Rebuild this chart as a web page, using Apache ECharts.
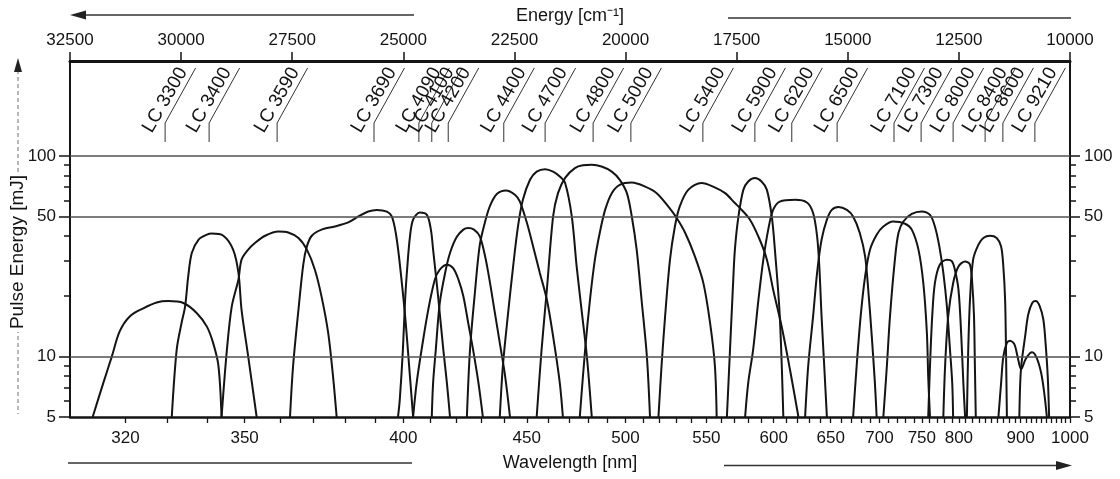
<!DOCTYPE html>
<html>
<head>
<meta charset="utf-8">
<script src="https://cdn.jsdelivr.net/npm/echarts@6.0.0/dist/echarts.min.js"></script>
<style>
html,body{margin:0;padding:0;background:#ffffff;}
#chart{width:1120px;height:479px;}
</style>
</head>
<body>
<div id="chart"></div>
<script>
// ---------------- DATA ----------------
// x: photon energy [cm^-1] (top axis), y: pulse energy [mJ]
const lc3300Energy = [31990,31750,31560,31380,31150,30850,30550,30290,29950,29650,29420,29280,29160,29090];
const lc3300Pulse  = [5,7.4,10.0,13.4,15.9,17.4,18.6,18.9,18.5,16.5,14.1,11.7,9.0,5];

const lc3400Energy = [30210,30100,29990,29910,29840,29760,29610,29420,29310,29050,28830,28710,28640,28490,28300];
const lc3400Pulse  = [5,10.8,14.7,17.8,25.1,32.8,38.2,40.5,41.0,40.0,34.1,26.1,17.1,10.0,5];

const lc3590Energy = [29090,28970,28860,28710,28640,28490,28340,28110,27810,27590,27360,27170,26990,26840,26690,26580,26500];
const lc3590Pulse  = [5,10.8,17.8,24.2,30.4,34.1,36.8,40.0,42.0,41.5,39.0,34.1,27.1,19.9,13.1,7.9,5];

const lc3690Energy = [27550,27480,27360,27250,27170,27060,26840,26540,26240,26010,25790,25600,25370,25260,25170,25090,24960,24850,24780];
const lc3690Pulse  = [5,9.0,17.1,28.9,35.4,40.0,42.9,44.5,46.6,49.9,52.8,53.8,52.8,49.9,41.3,30.4,15.9,7.9,5];

const lc4090Energy = [25120,25080,25010,24960,24910,24850,24780,24630,24470,24380,24330,24210,24100,24020,23950];
const lc4090Pulse  = [5,6.1,10.8,19.2,28.1,39.7,48.1,52.2,50.8,42.9,34.1,19.2,10.8,7.4,5];

const lc4100Energy = [24780,24700,24590,24440,24290,24180,24020,23880,23760,23650,23540,23430,23310,23210];
const lc4100Pulse  = [5,7.4,10.8,17.1,24.2,27.1,28.7,27.6,24.2,20.0,14.7,10.8,7.4,5];

const lc4200Energy = [24360,24330,24270,24180,24060,23950,23800,23650,23540,23410,23280,23160,23050,22940,22830,22710,22600];
const lc4200Pulse  = [5,7.4,10.8,18.5,26.1,32.8,39.4,42.9,43.7,42.9,39.7,31.6,23.3,16.5,11.7,8.0,5];

const lc4400Energy = [23570,23500,23390,23280,23160,23050,22890,22690,22490,22380,22220,22080,21930,21770,21630,21480,21410];
const lc4400Pulse  = [5,10.8,20.8,36.0,47.0,56.4,64.7,67.2,64.0,59.3,46.4,35.4,26.2,19.2,12.6,7.4,5];

const lc4700Energy = [22830,22760,22650,22530,22420,22310,22150,22000,21810,21630,21480,21360,21210,21100,20990,20870,20760];
const lc4700Pulse  = [5,9.0,15.9,28.1,44.5,60.4,76.0,83.5,85.9,83.5,78.9,73.2,49.9,28.1,17.1,10.0,5];

const lc4800Energy = [22000,21890,21770,21630,21520,21360,21140,20960,20760,20540,20310,20130,19970,19860,19750,19640,19520,19450];
const lc4800Pulse  = [5,10.8,21.6,49.9,65.2,77.7,86.9,89.7,90.2,88.5,83.5,76.0,65.2,49.9,34.1,19.2,10.0,5];

const lc5000Energy = [21030,20910,20800,20690,20580,20460,20310,20130,19860,19560,19300,19040,18850,18660,18440,18250,18100,17990,17950];
const lc5000Pulse  = [5,10.8,19.2,30.4,41.4,53.8,65.2,71.7,73.6,70.3,65.2,56.0,49.0,41.4,31.6,23.3,14.8,9.0,5];

const lc5400Energy = [19260,19190,19110,19000,18890,18780,18590,18290,18030,17760,17540,17430,17200,16980,16820,16680,16490,16300,16110];
const lc5400Pulse  = [5,9.0,15.9,30.4,44.5,56.0,67.7,73.2,70.3,65.2,58.2,55.1,48.1,38.2,30.4,21.6,14.2,8.6,5];

const lc5900Energy = [17720,17650,17580,17540,17460,17350,17240,17090,16940,16820,16710,16640,16530,16450];
const lc5900Pulse  = [5,10.8,23.3,34.1,49.9,67.7,74.5,77.5,74.5,67.7,49.9,34.1,15.9,5];

const lc6200Energy = [17310,17240,17130,17010,16900,16790,16680,16530,16190,15920,15780,15690,15640,15590,15530,15470];
const lc6200Pulse  = [5,7.4,10.8,19.2,30.4,42.9,53.8,59.2,60.4,58.6,51.9,39.7,28.1,15.9,9.0,5];

const lc6500Energy = [15960,15890,15780,15690,15590,15470,15360,15210,15020,14880,14730,14610,14540,14460,14390,14350];
const lc6500Pulse  = [5,9.0,15.9,26.2,38.2,48.1,53.8,55.6,53.8,49.9,41.3,31.6,21.6,12.6,7.4,5];

const lc7100Energy = [14880,14800,14710,14610,14500,14350,14200,13980,13710,13560,13410,13300,13220,13190,13150];
const lc7100Pulse  = [5,9.0,15.9,25.1,34.1,40.5,44.5,47.1,45.9,42.9,34.1,23.2,13.1,7.9,5];

const lc7300Energy = [14200,14120,14050,13940,13860,13750,13560,13340,13150,13040,12940,12850,12770,12700,12650,12630];
const lc7300Pulse  = [5,9.0,15.9,30.4,41.3,47.1,51.4,52.9,50.8,44.5,35.4,26.1,17.8,10.8,7.4,5];

const lc8000aEnergy = [13190,13150,13100,13040,12930,12770,12660,12590,12510,12450,12400,12360];
const lc8000aPulse  = [5,9.0,15.9,23.2,28.7,30.4,29.9,27.1,21.6,13.2,7.4,5];

const lc8000bEnergy = [12850,12810,12740,12630,12510,12360,12250,12200,12160,12140,12120];
const lc8000bPulse  = [5,9.0,15.9,23.2,28.1,29.8,28.7,23.2,15.9,9.0,5];

const lc8400Energy = [12320,12290,12250,12180,12060,11950,11800,11650,11550,11500,11460,11440,11420];
const lc8400Pulse  = [5,10.8,19.2,30.4,36.1,39.0,40.0,39.0,35.4,28.1,19.2,10.8,5];

const lc8600Energy = [11610,11550,11500,11420,11350,11250,11180,11100,11000,10900,10850,10750,10650,10580,10520];
const lc8600Pulse  = [5,7.4,10.0,11.7,12.0,11.5,10.0,8.65,9.7,10.4,10.5,9.85,8.3,6.6,5];

const lc9210Energy = [11140,11120,11090,11010,10940,10850,10770,10680,10600,10550,10500,10470];
const lc9210Pulse  = [5,7.4,9.3,12.6,16.2,18.5,18.9,17.8,15.3,11.7,7.9,5];

// dye labels and their positions [cm^-1]
const dyeNames = ['LC 3300','LC 3400','LC 3590','LC 3690','LC 4090','LC 4100','LC 4200','LC 4400','LC 4700','LC 4800','LC 5000',
                  'LC 5400','LC 5900','LC 6200','LC 6500','LC 7100','LC 7300','LC 8000','LC 8400','LC 8600','LC 9210'];
const dyeLabelEnergy = [30360,29370,27840,25660,24650,24360,23990,22740,21810,20730,19880,
                        18260,17090,16260,15240,13960,13350,12630,11910,11510,10790];

// axis ticks
const wavelengthLabels = [320,350,400,450,500,550,600,650,700,750,800,900,1000];
const pulseLabels = [5,10,50,100];
const pulseMinorTicks = [6,7,8,9,20,30,40,60,70,80,90];
const pulseGridLines = [10,50,100];

// ---------------- CHART ----------------
const FONT = '"Liberation Sans", Arial, Helvetica, sans-serif';
const INK = '#141414';
const E_MIN = 10000, E_MAX = 32500;
const P_MIN = 5, P_MAX = 297;

const curves = [
  ['LC 3300', lc3300Energy, lc3300Pulse], ['LC 3400', lc3400Energy, lc3400Pulse],
  ['LC 3590', lc3590Energy, lc3590Pulse], ['LC 3690', lc3690Energy, lc3690Pulse],
  ['LC 4090', lc4090Energy, lc4090Pulse], ['LC 4100', lc4100Energy, lc4100Pulse],
  ['LC 4200', lc4200Energy, lc4200Pulse], ['LC 4400', lc4400Energy, lc4400Pulse],
  ['LC 4700', lc4700Energy, lc4700Pulse], ['LC 4800', lc4800Energy, lc4800Pulse],
  ['LC 5000', lc5000Energy, lc5000Pulse], ['LC 5400', lc5400Energy, lc5400Pulse],
  ['LC 5900', lc5900Energy, lc5900Pulse], ['LC 6200', lc6200Energy, lc6200Pulse],
  ['LC 6500', lc6500Energy, lc6500Pulse], ['LC 7100', lc7100Energy, lc7100Pulse],
  ['LC 7300', lc7300Energy, lc7300Pulse], ['LC 8000 (a)', lc8000aEnergy, lc8000aPulse],
  ['LC 8000 (b)', lc8000bEnergy, lc8000bPulse], ['LC 8400', lc8400Energy, lc8400Pulse],
  ['LC 8600', lc8600Energy, lc8600Pulse], ['LC 9210', lc9210Energy, lc9210Pulse]
];

const wavelengthTicks = [];
for (let w = 320; w <= 1000; w += 10) wavelengthTicks.push(w);

const lg = Math.log10;
function pulseAxis(position, values, withLabels, tickLen, withLine) {
  return {
    type: 'value', position: position, min: lg(P_MIN), max: lg(P_MAX),
    axisLine: { show: withLine, lineStyle: { color: INK, width: 2 } },
    axisTick: { show: true, inside: false, length: tickLen, customValues: values.map(lg),
                lineStyle: { color: INK, width: 1.5 } },
    axisLabel: { show: withLabels, customValues: values.map(lg), margin: 14,
                 color: INK, fontSize: 17, fontFamily: FONT,
                 formatter: v => String(Math.round(Math.pow(10, v))) },
    splitLine: { show: false }
  };
}

const series = curves.map((c, k) => ({
  type: 'line', name: c[0], xAxisIndex: 0, yAxisIndex: 0,
  data: c[1].map((e, i) => [e, c[2][i]]),
  showSymbol: false, symbol: 'none', smooth: 0.32, silent: true, animation: false,
  lineStyle: { color: INK, width: 2 }, z: 3,
  markLine: k === 0 ? {
    symbol: 'none', silent: true, animation: false, label: { show: false },
    lineStyle: { color: '#505050', width: 1.5, type: 'solid' },
    data: pulseGridLines.map(v => ({ yAxis: v }))
  } : undefined
}));

series.push({
  type: 'custom', name: 'dye labels', xAxisIndex: 0, yAxisIndex: 0, silent: true, animation: false, z: 4,
  data: dyeLabelEnergy.map((e, i) => [e, P_MAX, i]),
  encode: { x: 0, y: 1 },
  renderItem: function (params, api) {
    const i = api.value(2);
    const p = api.coord([api.value(0), api.value(1)]);
    const x = p[0], top = p[1];
    // leader line
    const la = 61 * Math.PI / 180;
    const yb = top + 81, yk = top + 62, L = 63;
    // text
    const ta = 60 * Math.PI / 180;
    const ca = Math.cos(ta), sa = Math.sin(ta);
    const t = -16, q = 2;
    const tx = x + t * ca - q * sa, ty = yk - t * sa - q * ca;
    return {
      type: 'group',
      children: [
        { type: 'polyline', shape: { points: [[x, yb], [x, yk], [x + L * Math.cos(la), yk - L * Math.sin(la)]] },
          style: { stroke: '#333', lineWidth: 1, fill: null } },
        { type: 'text', x: tx, y: ty, rotation: ta,
          style: { text: dyeNames[i], fill: INK, font: '19px ' + FONT, align: 'left', verticalAlign: 'bottom' } }
      ]
    };
  }
});

const option = {
  backgroundColor: '#ffffff',
  animation: false,
  textStyle: { fontFamily: FONT },
  grid: { left: 70, right: 50, top: 61, bottom: 62, containLabel: false, outerBoundsMode: 'none' },
  xAxis: [
    {
      type: 'value', position: 'bottom', min: E_MIN, max: E_MAX, inverse: true,
      name: 'Wavelength [nm]', nameLocation: 'middle', nameGap: 37,
      nameTextStyle: { color: INK, fontSize: 18, fontFamily: FONT },
      axisLine: { show: true, lineStyle: { color: INK, width: 2.5 } },
      axisTick: { show: true, inside: false, length: 6, customValues: wavelengthTicks.map(w => 1e7 / w),
                  lineStyle: { color: INK, width: 1.3 } },
      axisLabel: { customValues: wavelengthLabels.map(w => 1e7 / w), margin: 13, color: INK, fontSize: 17,
                   fontFamily: FONT, formatter: v => String(Math.round(1e7 / v)) },
      splitLine: { show: false }
    },
    {
      type: 'value', position: 'top', min: E_MIN, max: E_MAX, inverse: true, interval: 2500,
      name: 'Energy [cm\u207B\u00B9]', nameLocation: 'middle', nameGap: 36,
      nameTextStyle: { color: INK, fontSize: 18, fontFamily: FONT },
      axisLine: { show: true, lineStyle: { color: INK, width: 3 } },
      axisTick: { show: true, inside: false, length: 9, lineStyle: { color: INK, width: 1.5 } },
      axisLabel: { margin: 12, color: INK, fontSize: 17, fontFamily: FONT, formatter: v => String(v) },
      splitLine: { show: false }
    }
  ],
  yAxis: [
    { type: 'log', logBase: 10, min: P_MIN, max: P_MAX, show: false, splitLine: { show: false } },
    pulseAxis('left', pulseLabels, true, 11, true),
    pulseAxis('left', pulseMinorTicks, false, 6, false),
    pulseAxis('right', pulseLabels, true, 10, true),
    pulseAxis('right', pulseMinorTicks, false, 6, false)
  ],
  series: series,
  graphic: [
    // top-left arrow (energy increases to the left)
    { type: 'line', shape: { x1: 82, y1: 15, x2: 414, y2: 15 }, style: { stroke: '#333', lineWidth: 1.5 }, silent: true },
    { type: 'polygon', shape: { points: [[70, 15], [86, 10.5], [86, 19.5]] }, style: { fill: '#222' }, silent: true },
    // top-right plain line
    { type: 'line', shape: { x1: 728, y1: 18, x2: 1071, y2: 18 }, style: { stroke: '#333', lineWidth: 1.5 }, silent: true },
    // bottom-left plain line
    { type: 'line', shape: { x1: 68, y1: 463, x2: 412, y2: 463 }, style: { stroke: '#333', lineWidth: 1.5 }, silent: true },
    // bottom-right arrow (wavelength increases to the right)
    { type: 'line', shape: { x1: 724, y1: 465.5, x2: 1058, y2: 465.5 }, style: { stroke: '#333', lineWidth: 1.5 }, silent: true },
    { type: 'polygon', shape: { points: [[1072, 465.5], [1056, 461], [1056, 470]] }, style: { fill: '#222' }, silent: true },
    // left vertical dashed arrow
    { type: 'line', shape: { x1: 18, y1: 70, x2: 18, y2: 414 }, style: { stroke: '#888', lineWidth: 1.2, lineDash: [4, 3] }, silent: true },
    { type: 'polygon', shape: { points: [[18, 58], [14, 72], [22, 72]] }, style: { fill: '#222' }, silent: true },
    { type: 'text', x: 18, y: 252, rotation: Math.PI / 2, silent: true,
      style: { text: 'Pulse Energy [mJ]', fill: INK, font: '19px ' + FONT, align: 'center', verticalAlign: 'middle',
               backgroundColor: '#ffffff', padding: [0, 3] } }
  ]
};

const chart = echarts.init(document.getElementById('chart'), null, { renderer: 'canvas' });
chart.setOption(option);
</script>
</body>
</html>
